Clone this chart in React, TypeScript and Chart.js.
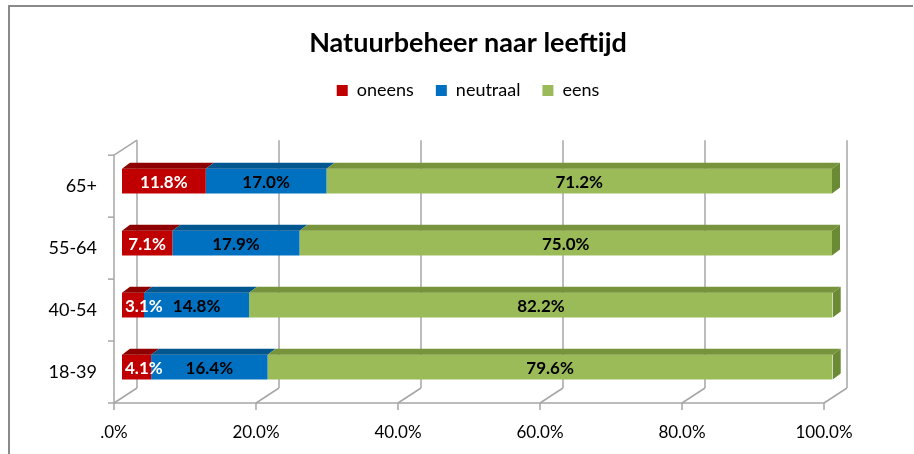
import React, { useEffect, useRef } from 'react';
import { Chart, registerables } from 'chart.js';

Chart.register(...registerables);

// ---------- data ----------
const TITLE = 'Natuurbeheer naar leeftijd';
const CATEGORIES = ['65+', '55-64', '40-54', '18-39'];
const SERIES_NAMES = ['oneens', 'neutraal', 'eens'];
const ONEENS = [11.8, 7.1, 3.1, 4.1];
const NEUTRAAL = [17.0, 17.9, 14.8, 16.4];
const EENS = [71.2, 75.0, 82.2, 79.6];
const X_TICKS = [0, 20, 40, 60, 80, 100];

// ---------- styles ----------
const FONT = 'Lato, "Open Sans", "Noto Sans", sans-serif';
const FRONT_COLORS = ['#C00000', '#0070C0', '#9BBB59'];
const TOP_COLORS = ['#8E0000', '#00568F', '#77933C'];
const SIDE_COLOR = '#6A8A33';
const LABEL_COLORS = ['#FFFFFF', '#000000', '#000000'];
const GRID_COLOR = '#A6A6A6';
const FRAME_COLOR = '#8A8A8A';
const FRONT_OFF = { dx: -8, dy: 5 };
const BACK_OFF = { dx: 15, dy: -10 };
const BAR_DEPTH = { dx: 8, dy: -6 };

const fmtTick = (v: number) => (v === 0 ? '.0%' : v.toFixed(1) + '%');

const framePlugin = {
  id: 'frame3d',
  beforeDraw(chart: any) {
    const { ctx, width, height } = chart;
    ctx.save();
    ctx.strokeStyle = FRAME_COLOR;
    ctx.lineWidth = 2;
    ctx.beginPath();
    ctx.moveTo(9, height);
    ctx.lineTo(9, 6);
    ctx.lineTo(width - 1, 6);
    ctx.stroke();
    ctx.restore();
  },
  beforeDatasetsDraw(chart: any) {
    const { ctx, chartArea: a, scales } = chart;
    const xs = scales.x;
    const xf = (v: number) => xs.getPixelForValue(v) + FRONT_OFF.dx;
    const xb = (v: number) => xs.getPixelForValue(v) + BACK_OFF.dx;
    const fTop = a.top + FRONT_OFF.dy;
    const fBot = a.bottom + FRONT_OFF.dy;
    const bTop = a.top + BACK_OFF.dy;
    const bBot = a.bottom + BACK_OFF.dy;
    const line = (x1: number, y1: number, x2: number, y2: number) => {
      ctx.beginPath();
      ctx.moveTo(x1, y1);
      ctx.lineTo(x2, y2);
      ctx.stroke();
    };
    ctx.save();
    ctx.strokeStyle = GRID_COLOR;
    ctx.lineWidth = 1.5;
    X_TICKS.forEach((v) => {
      line(xb(v), bTop, xb(v), bBot);
      line(xb(v), bBot, xf(v), fBot);
      line(xf(v), fBot, xf(v), fBot + 7);
    });
    const x0 = xf(X_TICKS[0]);
    line(x0 - 6, fBot, xf(X_TICKS[X_TICKS.length - 1]), fBot);
    line(x0, fTop, x0, fBot);
    line(x0, fTop, xb(X_TICKS[0]), bTop);
    const n = CATEGORIES.length;
    for (let i = 0; i < n; i++) {
      const yy = fTop + (i * (fBot - fTop)) / n;
      line(x0 - 6, yy, x0, yy);
    }
    ctx.restore();
  },
  afterDatasetsDraw(chart: any) {
    const { ctx, chartArea: a } = chart;
    const nDs = chart.data.datasets.length;
    ctx.save();
    // top & side faces
    chart.data.datasets.forEach((_ds: any, di: number) => {
      const meta = chart.getDatasetMeta(di);
      meta.data.forEach((el: any) => {
        const { x, y, base, height } = el.getProps(['x', 'y', 'base', 'height'], true);
        const x0 = Math.min(x, base);
        const x1 = Math.max(x, base);
        const top = y - height / 2;
        const bot = y + height / 2;
        ctx.fillStyle = TOP_COLORS[di];
        ctx.beginPath();
        ctx.moveTo(x0, top);
        ctx.lineTo(x0 + BAR_DEPTH.dx, top + BAR_DEPTH.dy);
        ctx.lineTo(x1 + BAR_DEPTH.dx, top + BAR_DEPTH.dy);
        ctx.lineTo(x1, top);
        ctx.closePath();
        ctx.fill();
        if (di === nDs - 1) {
          ctx.fillStyle = SIDE_COLOR;
          ctx.beginPath();
          ctx.moveTo(x1, top);
          ctx.lineTo(x1 + BAR_DEPTH.dx, top + BAR_DEPTH.dy);
          ctx.lineTo(x1 + BAR_DEPTH.dx, bot + BAR_DEPTH.dy);
          ctx.lineTo(x1, bot);
          ctx.closePath();
          ctx.fill();
        }
      });
    });
    // data labels
    ctx.font = `bold 17px ${FONT}`;
    ctx.textAlign = 'center';
    ctx.textBaseline = 'middle';
    chart.data.datasets.forEach((ds: any, di: number) => {
      const meta = chart.getDatasetMeta(di);
      meta.data.forEach((el: any, i: number) => {
        const { x, y, base } = el.getProps(['x', 'y', 'base'], true);
        const text = Number(ds.data[i]).toFixed(1) + '%';
        const w = ctx.measureText(text).width;
        let cx = (x + base) / 2;
        const minCx = a.left + w / 2 + 3;
        if (cx < minCx) cx = minCx;
        ctx.fillStyle = LABEL_COLORS[di];
        ctx.fillText(text, cx, y + 1);
      });
    });
    ctx.restore();
  },
};

export default function App() {
  const ref = useRef<HTMLCanvasElement>(null);
  useEffect(() => {
    if (!ref.current) return;
    const seriesData = [ONEENS, NEUTRAAL, EENS];
    const chart = new Chart(ref.current, {
      type: 'bar',
      data: {
        labels: CATEGORIES,
        datasets: SERIES_NAMES.map((name, i) => ({
          label: name,
          data: seriesData[i],
          backgroundColor: FRONT_COLORS[i],
          borderWidth: 0,
          categoryPercentage: 1,
          barPercentage: 0.4,
        })),
      },
      options: {
        indexAxis: 'y',
        responsive: false,
        animation: false,
        events: [],
        layout: { padding: { top: 0, right: -22, bottom: 0, left: 0 } },
        plugins: {
          title: {
            display: true,
            text: TITLE,
            color: '#000000',
            font: { family: FONT, size: 27, weight: 'bold', lineHeight: 1.2 },
            padding: { top: 27, bottom: 0 },
          },
          subtitle: {
            display: true,
            text: '',
            weight: 500,
            font: { size: 10, lineHeight: '40.8px' },
            padding: 0,
          },
          legend: {
            display: true,
            position: 'top',
            labels: {
              boxWidth: 11,
              boxHeight: 11,
              padding: 22,
              color: '#000000',
              font: { family: FONT, size: 18 },
            },
          },
          tooltip: { enabled: false },
        },
        scales: {
          x: {
            stacked: true,
            min: 0,
            max: 100,
            afterFit: (s: any) => {
              s.height = 56;
            },
            grid: { display: false, drawTicks: false },
            border: { display: false },
            ticks: {
              stepSize: 20,
              padding: 24,
              labelOffset: -8,
              maxRotation: 0,
              autoSkip: false,
              color: '#000000',
              font: { family: FONT, size: 17 },
              callback: (v: any) => fmtTick(Number(v)),
            },
          },
          y: {
            stacked: true,
            afterFit: (s: any) => {
              s.width = 122;
            },
            grid: { display: false, drawTicks: false },
            border: { display: false },
            ticks: {
              padding: 25,
              labelOffset: 5,
              color: '#000000',
              font: { family: FONT, size: 18 },
            },
          },
          yRight: {
            type: 'category',
            axis: 'y',
            position: 'right',
            afterFit: (s: any) => {
              s.width = 104;
            },
            grid: { display: false, drawTicks: false },
            border: { display: false },
            ticks: { display: false },
          },
        },
      } as any,
      plugins: [framePlugin],
    });
    return () => chart.destroy();
  }, []);
  return (
    <canvas
      ref={ref}
      width={914}
      height={454}
      style={{ position: 'absolute', left: 0, top: 0, display: 'block' }}
    />
  );
}
